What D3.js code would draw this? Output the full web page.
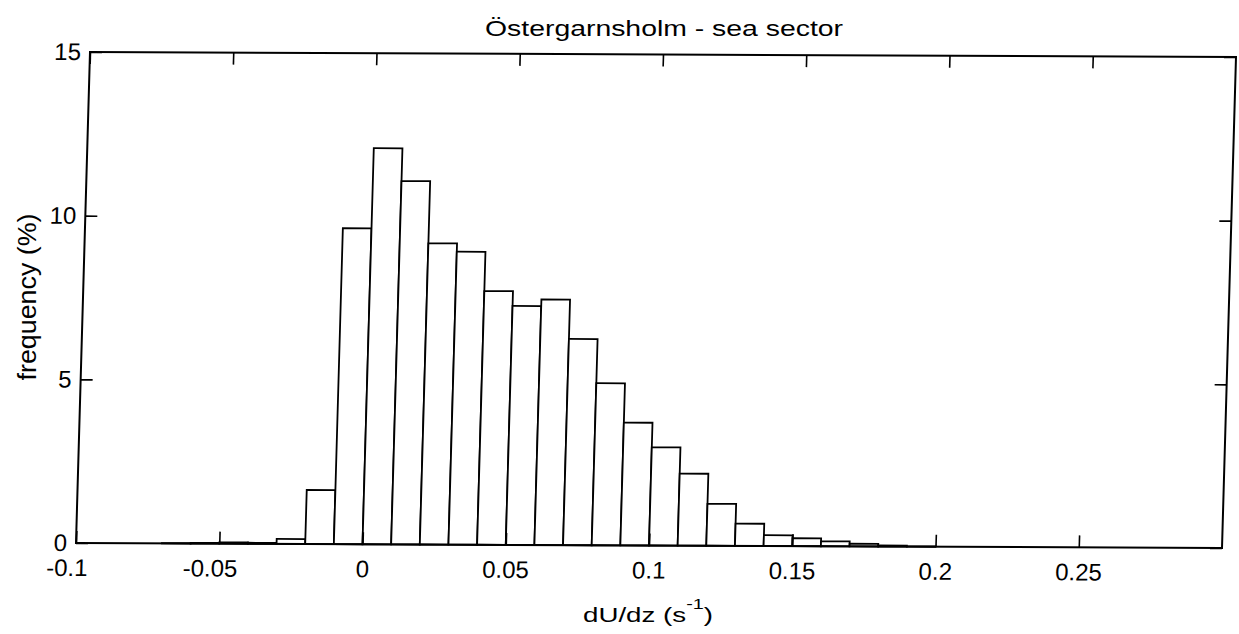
<!DOCTYPE html>
<html>
<head>
<meta charset="utf-8">
<script src="https://cdn.jsdelivr.net/npm/d3@7"></script>
<style>
  html, body { margin: 0; padding: 0; background: #fff; }
  svg { display: block; }
  text { font-family: "Liberation Sans", Arial, Helvetica, sans-serif; fill: #000; }
</style>
</head>
<body>
<svg id="chart" width="1239" height="634"></svg>
<script>
// ---- data ----
const binLeft = [-0.10, -0.09, -0.08, -0.07, -0.06, -0.05, -0.04, -0.03, -0.02, -0.01,
                  0.00,  0.01,  0.02,  0.03,  0.04,  0.05,  0.06,  0.07,  0.08,  0.09,
                  0.10,  0.11,  0.12,  0.13,  0.14,  0.15,  0.16,  0.17,  0.18,  0.19,
                  0.20,  0.21,  0.22,  0.23,  0.24,  0.25,  0.26,  0.27,  0.28,  0.29];
const binWidth = 0.01;
const frequency = [0, 0, 0, 0.01, 0.02, 0.04, 0.03, 0.15, 1.65, 9.65,
                   12.1, 11.1, 9.2, 8.95, 7.75, 7.3, 7.5, 6.3, 4.95, 3.75,
                   3.0, 2.2, 1.28, 0.68, 0.33, 0.24, 0.15, 0.08, 0.03, 0.01,
                   0, 0, 0, 0, 0, 0, 0, 0, 0, 0];
const xDomain = [-0.1, 0.3];
const yDomain = [0, 15];
const xTicks = [-0.1, -0.05, 0, 0.05, 0.1, 0.15, 0.2, 0.25];
const xTickLabels = ["-0.1", "-0.05", "0", "0.05", "0.1", "0.15", "0.2", "0.25"];
const yTicks = [0, 5, 10, 15];
const yTickLabels = ["0", "5", "10", "15"];
const titleText = "Östergarnsholm - sea sector";
const yLabelText = "frequency (%)";

// ---- layout ----
const W = 1146, H = 491;
const svg = d3.select("#chart");

// plot group (slightly sheared like the scanned original)
const g = svg.append("g")
  .attr("transform", `matrix(1, ${5 / W}, ${-14 / H}, 1, 90, 52)`);

const x = d3.scaleLinear().domain(xDomain).range([0, W]);
const y = d3.scaleLinear().domain(yDomain).range([H, 0]);

const bins = binLeft.map((b, i) => ({ x0: b, x1: b + binWidth, v: frequency[i] }));

g.append("g").selectAll("rect")
  .data(bins)
  .join("rect")
  .attr("x", d => x(d.x0))
  .attr("width", d => x(d.x1) - x(d.x0))
  .attr("y", d => y(d.v))
  .attr("height", d => y(0) - y(d.v))
  .attr("fill", "#fff")
  .attr("stroke", "#000")
  .attr("stroke-width", 1.8);

// axes with inward ticks
const fmtX = v => xTickLabels[xTicks.indexOf(v)];
const fmtY = v => yTickLabels[yTicks.indexOf(v)];

const axB = g.append("g").attr("transform", `translate(0,${H})`)
  .call(d3.axisBottom(x).tickValues(xTicks).tickFormat(fmtX).tickSizeInner(-12).tickSizeOuter(0).tickPadding(16));
const axT = g.append("g")
  .call(d3.axisTop(x).tickValues(xTicks).tickFormat("").tickSizeInner(-12).tickSizeOuter(0));
const axL = g.append("g")
  .call(d3.axisLeft(y).tickValues(yTicks).tickFormat(fmtY).tickSizeInner(-12).tickSizeOuter(0).tickPadding(9));
const axR = g.append("g").attr("transform", `translate(${W},0)`)
  .call(d3.axisRight(y).tickValues(yTicks).tickFormat("").tickSizeInner(-12).tickSizeOuter(0));

[axB, axT, axL, axR].forEach(a => {
  a.select(".domain").remove();
  a.selectAll(".tick line").attr("stroke", "#000").attr("stroke-width", 1.6);
  a.selectAll(".tick text").attr("font-size", 24).attr("fill", "#000")
    .style("font-family", '"Liberation Sans", Arial, Helvetica, sans-serif');
});
axB.selectAll(".tick text").attr("dx", d => d < 0 ? "-9px" : null);

// frame
g.append("rect")
  .attr("x", 0).attr("y", 0).attr("width", W).attr("height", H)
  .attr("fill", "none").attr("stroke", "#000").attr("stroke-width", 2);

// title
svg.append("text")
  .attr("x", 664).attr("y", 36)
  .attr("text-anchor", "middle")
  .attr("font-size", 22)
  .attr("textLength", 358).attr("lengthAdjust", "spacingAndGlyphs")
  .text(titleText);

// x label with superscript
const xl = svg.append("text")
  .attr("x", 648).attr("y", 622)
  .attr("text-anchor", "middle")
  .attr("font-size", 21)
  .attr("textLength", 130).attr("lengthAdjust", "spacingAndGlyphs");
xl.append("tspan").text("dU/dz (s");
xl.append("tspan").attr("font-size", 15).attr("dy", -13).text("-1");
xl.append("tspan").attr("dy", 13).text(")");

// y label
svg.append("text")
  .attr("transform", "translate(36,297) rotate(-90)")
  .attr("text-anchor", "middle")
  .attr("font-size", 25)
  .attr("textLength", 167).attr("lengthAdjust", "spacingAndGlyphs")
  .text(yLabelText);
</script>
</body>
</html>
